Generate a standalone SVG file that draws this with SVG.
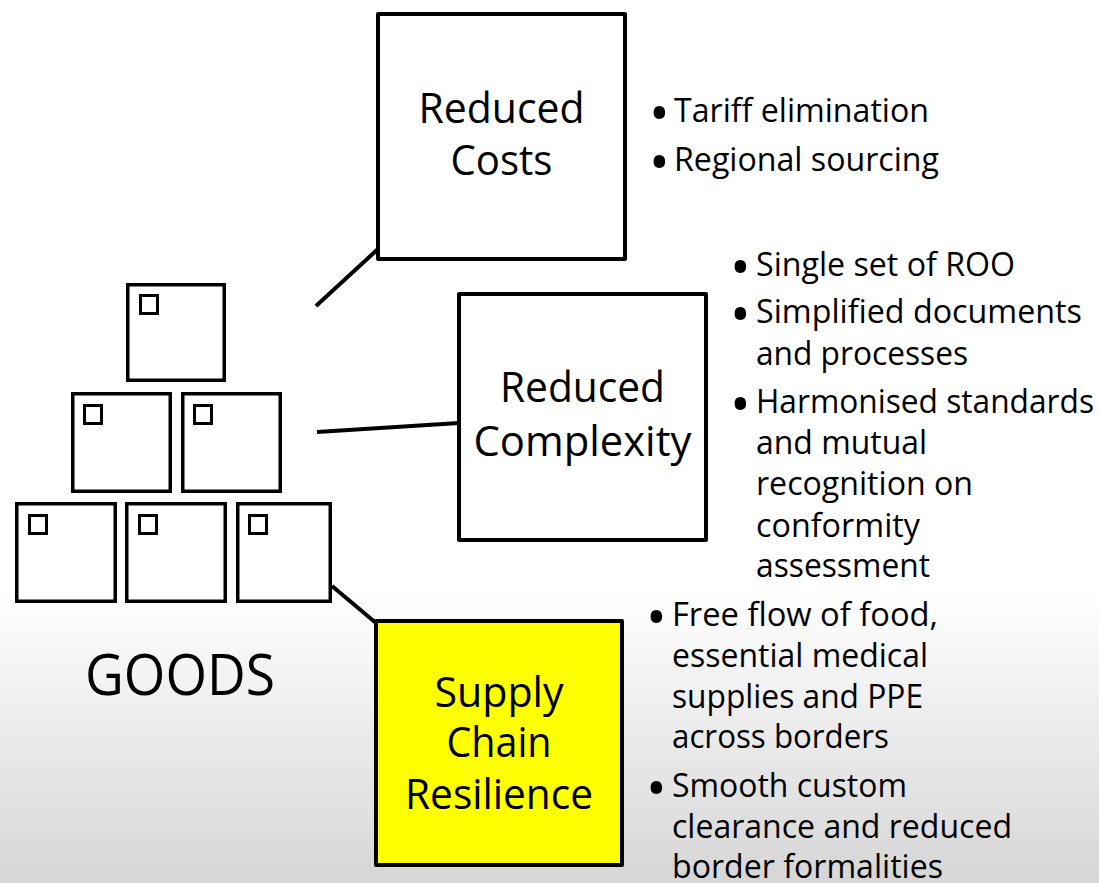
<svg xmlns="http://www.w3.org/2000/svg" width="1099" height="883" viewBox="0 0 1099 883">
  <defs>
    <linearGradient id="bg" gradientUnits="userSpaceOnUse" x1="0" y1="590" x2="0" y2="883">
      <stop offset="0" stop-color="#ffffff"/>
      <stop offset="1" stop-color="#d6d6d6"/>
    </linearGradient>
    <style>
      .box { fill: #ffffff; stroke: #000000; stroke-width: 4; stroke-linejoin: round; }
      .hl { fill: #ffff00; }
      .crate { fill: #ffffff; stroke: #000000; stroke-width: 3.5; }
      .tag { fill: none; stroke: #000000; stroke-width: 3; }
      .conn { stroke: #000000; stroke-width: 4; fill: none; }
      text { font-family: "Open Sans", "Noto Sans", "Liberation Sans", sans-serif; fill: #000000; }
      .title { font-size: 42px; text-anchor: middle; }
      .goods { font-size: 56px; text-anchor: middle; }
      .bul { font-size: 32px; }
      .dot { font-size: 55px; }
    </style>
  </defs>
  <rect x="0" y="0" width="1099" height="883" fill="url(#bg)"/>

  <g id="connectors">
    <line class="conn" x1="316" y1="306" x2="378" y2="249"/>
    <line class="conn" x1="317" y1="432" x2="459" y2="423"/>
    <line class="conn" x1="332" y1="586" x2="376" y2="623"/>
  </g>

  <g id="goods">
    <rect class="crate" x="127.75" y="284.75" width="96.5" height="95.5"/>
    <rect class="tag" x="140.5" y="295.5" width="17" height="18"/>
    <rect class="crate" x="72.75" y="393.75" width="97.5" height="97.5"/>
    <rect class="tag" x="84.5" y="405.5" width="17" height="18"/>
    <rect class="crate" x="182.75" y="393.75" width="97.5" height="97.5"/>
    <rect class="tag" x="194.5" y="405.5" width="17" height="18"/>
    <rect class="crate" x="16.75" y="503.75" width="98.5" height="97.5"/>
    <rect class="tag" x="29.5" y="515.5" width="17" height="18"/>
    <rect class="crate" x="126.75" y="503.75" width="98.5" height="97.5"/>
    <rect class="tag" x="139.5" y="515.5" width="17" height="18"/>
    <rect class="crate" x="237.75" y="503.75" width="92.5" height="97.5"/>
    <rect class="tag" x="249.5" y="515.5" width="17" height="18"/>
    <text class="goods" x="180" y="695" textLength="190" lengthAdjust="spacingAndGlyphs">GOODS</text>
  </g>

  <g id="reduced-costs">
    <rect class="box" x="378" y="14" width="247" height="245"/>
    <text class="title" x="501.5" y="123" textLength="166" lengthAdjust="spacingAndGlyphs">Reduced</text>
    <text class="title" x="501.5" y="175" textLength="102" lengthAdjust="spacingAndGlyphs">Costs</text>
  </g>

  <g id="costs-bullets">
    <text class="bul" y="122"><tspan class="dot" x="649" dy="11">•</tspan><tspan x="674" dy="-11" textLength="255" lengthAdjust="spacingAndGlyphs">Tariff elimination</tspan></text>
    <text class="bul" y="171"><tspan class="dot" x="649" dy="11">•</tspan><tspan x="674" dy="-11" textLength="265" lengthAdjust="spacingAndGlyphs">Regional sourcing</tspan></text>
  </g>

  <g id="reduced-complexity">
    <rect class="box" x="459" y="294" width="247" height="246"/>
    <text class="title" x="582.5" y="402" textLength="165" lengthAdjust="spacingAndGlyphs">Reduced</text>
    <text class="title" x="582.5" y="456" textLength="218" lengthAdjust="spacingAndGlyphs">Complexity</text>
  </g>

  <g id="complexity-bullets">
    <text class="bul" y="276"><tspan class="dot" x="730" dy="11">•</tspan><tspan x="756" dy="-11" textLength="259" lengthAdjust="spacingAndGlyphs">Single set of ROO</tspan></text>
    <text class="bul" y="323"><tspan class="dot" x="730" dy="11">•</tspan><tspan x="756" dy="-11" textLength="326" lengthAdjust="spacingAndGlyphs">Simplified documents</tspan></text>
    <text class="bul" x="756" y="365" textLength="212" lengthAdjust="spacingAndGlyphs">and processes</text>
    <text class="bul" y="413"><tspan class="dot" x="730" dy="11">•</tspan><tspan x="756" dy="-11" textLength="338" lengthAdjust="spacingAndGlyphs">Harmonised standards</tspan></text>
    <text class="bul" x="756" y="454" textLength="171" lengthAdjust="spacingAndGlyphs">and mutual</text>
    <text class="bul" x="756" y="495" textLength="217" lengthAdjust="spacingAndGlyphs">recognition on</text>
    <text class="bul" x="756" y="537" textLength="164" lengthAdjust="spacingAndGlyphs">conformity</text>
    <text class="bul" x="756" y="577" textLength="174" lengthAdjust="spacingAndGlyphs">assessment</text>
  </g>

  <g id="supply-chain-resilience">
    <rect class="box hl" x="376" y="621" width="246" height="244"/>
    <text class="title" x="499" y="707" textLength="129" lengthAdjust="spacingAndGlyphs">Supply</text>
    <text class="title" x="499" y="757" textLength="105" lengthAdjust="spacingAndGlyphs">Chain</text>
    <text class="title" x="499" y="809" textLength="188" lengthAdjust="spacingAndGlyphs">Resilience</text>
  </g>

  <g id="resilience-bullets">
    <text class="bul" y="626"><tspan class="dot" x="646" dy="11">•</tspan><tspan x="672" dy="-11" textLength="266" lengthAdjust="spacingAndGlyphs">Free flow of food,</tspan></text>
    <text class="bul" x="672" y="667" textLength="256" lengthAdjust="spacingAndGlyphs">essential medical</text>
    <text class="bul" x="672" y="708" textLength="251" lengthAdjust="spacingAndGlyphs">supplies and PPE</text>
    <text class="bul" x="672" y="748" textLength="217" lengthAdjust="spacingAndGlyphs">across borders</text>
    <text class="bul" y="797"><tspan class="dot" x="646" dy="11">•</tspan><tspan x="672" dy="-11" textLength="235" lengthAdjust="spacingAndGlyphs">Smooth custom</tspan></text>
    <text class="bul" x="672" y="838" textLength="340" lengthAdjust="spacingAndGlyphs">clearance and reduced</text>
    <text class="bul" x="672" y="878" textLength="271" lengthAdjust="spacingAndGlyphs">border formalities</text>
  </g>
</svg>
